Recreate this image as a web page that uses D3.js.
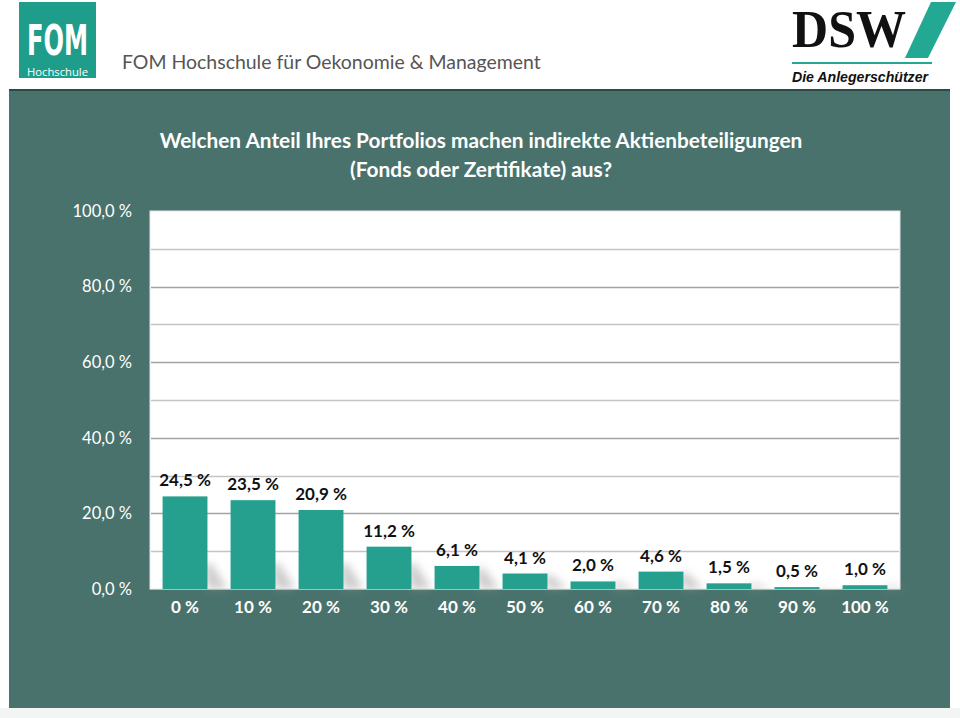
<!DOCTYPE html>
<html><head><meta charset="utf-8">
<script src="https://cdn.jsdelivr.net/npm/d3@7"></script>
<style>html,body{margin:0;padding:0;background:#fff;}svg{display:block;}</style>
</head><body>
<script>
const categories = ["0 %","10 %","20 %","30 %","40 %","50 %","60 %","70 %","80 %","90 %","100 %"];
const values = [24.5,23.5,20.9,11.2,6.1,4.1,2.0,4.6,1.5,0.5,1.0];
const yTickValues = [0,20,40,60,80,100];
const gridValues = [10,20,30,40,50,60,70,80,90];
const titleLines = ["Welchen Anteil Ihres Portfolios machen indirekte Aktienbeteiligungen","(Fonds oder Zertifikate) aus?"];
const headerText = "FOM Hochschule für Oekonomie & Management";

const W = 960, H = 718;
const de = d3.formatLocale({decimal:",", thousands:".", grouping:[3], currency:["","€"]});
const f1 = de.format(".1f");

const svg = d3.select("body").append("svg").attr("width",W).attr("height",H);
const defs = svg.append("defs");
defs.append("filter").attr("id","blur").attr("x","-50%").attr("y","-50%").attr("width","200%").attr("height","200%")
  .append("feGaussianBlur").attr("stdDeviation",4);

function fit(sel, target){
  const n = sel.node(); const w = n.getComputedTextLength();
  const fs = parseFloat(sel.attr("font-size"));
  sel.attr("font-size", fs*target/w);
}

// background
svg.append("rect").attr("width",W).attr("height",H).attr("fill","#ffffff");
svg.append("rect").attr("x",0).attr("y",708).attr("width",W).attr("height",10).attr("fill","#f3f4f4");

// FOM logo
svg.append("rect").attr("x",19).attr("y",2).attr("width",77).attr("height",76).attr("fill","#1d9d8a");
svg.append("text").attr("x",27).attr("y",55).attr("font-family","DejaVu Sans Condensed, DejaVu Sans").attr("font-weight","bold")
  .attr("font-size",42).attr("fill","#fff").attr("textLength",61).attr("lengthAdjust","spacingAndGlyphs").text("FOM");
svg.append("text").attr("x",27).attr("y",76).attr("font-family","Open Sans").attr("font-size",10).attr("fill","#fff")
  .attr("textLength",61).attr("lengthAdjust","spacingAndGlyphs").text("Hochschule");
const ht = svg.append("text").attr("x",122).attr("y",69).attr("font-family","Lato").attr("font-size",19).attr("fill","#555").text(headerText);
fit(ht, 419);

// DSW logo
svg.append("text").attr("x",792).attr("y",47).attr("font-family","Liberation Serif").attr("font-weight","bold")
  .attr("font-size",52).attr("fill","#111").attr("textLength",114).attr("lengthAdjust","spacingAndGlyphs").text("DSW");
svg.append("polygon").attr("points","931,2 956,2 928,58 905,58").attr("fill","#23a894");
svg.append("rect").attr("x",792).attr("y",62).attr("width",140).attr("height",2).attr("fill","#23a894");
svg.append("text").attr("x",792).attr("y",82).attr("font-family","Liberation Sans").attr("font-weight","bold").attr("font-style","italic")
  .attr("font-size",14).attr("fill","#111").attr("textLength",136).attr("lengthAdjust","spacingAndGlyphs").text("Die Anlegerschützer");

// panel
svg.append("rect").attr("x",9).attr("y",90).attr("width",941).attr("height",618).attr("fill","#4a726c");
svg.append("rect").attr("x",9).attr("y",89).attr("width",941).attr("height",2).attr("fill","#2e4b47");

// title
titleLines.forEach((t,i)=>{
  svg.append("text").attr("x",481).attr("y",148+i*29).attr("text-anchor","middle").attr("font-family","Lato")
    .attr("font-weight","bold").attr("font-size",19).attr("fill","#fff").text(t);
});
svg.selectAll("text").filter(function(){return this.textContent===titleLines[0];}).call(s=>fit(s,643));
svg.selectAll("text").filter(function(){return this.textContent===titleLines[1];}).call(s=>fit(s,262));

// plot area
const x = d3.scaleBand().domain(categories).range([150,900]).paddingInner(0.34).paddingOuter(0.185);
const y = d3.scaleLinear().domain([0,100]).range([589,211]);
svg.append("rect").attr("x",150).attr("y",y(100)).attr("width",750).attr("height",y(0)-y(100)).attr("fill","#fff").attr("stroke","#e3e6e6").attr("stroke-width",1);

svg.append("g").selectAll("line").data(gridValues).join("line")
  .attr("x1",151).attr("x2",899).attr("y1",d=>Math.round(y(d))+0.5).attr("y2",d=>Math.round(y(d))+0.5)
  .attr("stroke",d=>d%20===0?"#a3a3a3":"#c4c4c4").attr("stroke-width",1.3);

// shadows
svg.append("g").attr("filter","url(#blur)").selectAll("polygon").data(values).join("polygon")
  .attr("points",(d,i)=>{
    const xr = x(categories[i])+x.bandwidth(); const b = y(0); const s = Math.min(y(0)-y(d), 28)*0.9;
    return [[xr-4,b-s],[xr+4,b-s],[xr+20,b],[xr,b]].map(p=>p.join(",")).join(" ");
  }).attr("fill","#9a9a9a").attr("opacity",0.5);

// bars
svg.append("g").selectAll("rect").data(values).join("rect")
  .attr("x",(d,i)=>x(categories[i])).attr("width",x.bandwidth())
  .attr("y",d=>y(d)).attr("height",d=>y(0)-y(d)).attr("fill","#25a08f");

svg.append("line").attr("x1",150).attr("x2",900).attr("y1",589.5).attr("y2",589.5).attr("stroke","#b9b9b9").attr("stroke-width",1);

// value labels
svg.append("g").selectAll("text").data(values).join("text")
  .attr("x",(d,i)=>x(categories[i])+x.bandwidth()/2).attr("y",d=>y(d)-10)
  .attr("text-anchor","middle").attr("font-family","Lato").attr("font-weight","bold").attr("font-size",17)
  .attr("fill","#111").text(d=>f1(d)+" %");

// y axis
const yAxis = d3.axisLeft(y).tickValues(yTickValues).tickSize(0).tickPadding(0).tickFormat(d=>f1(d)+" %");
const gy = svg.append("g").attr("transform","translate(132,0)").call(yAxis);
gy.select(".domain").remove();
gy.selectAll("text").attr("font-family","Lato").attr("font-size",16.5).attr("fill","#fff");

// x axis
const xAxis = d3.axisBottom(x).tickSize(0).tickPadding(0);
const gx = svg.append("g").attr("transform","translate(0,601)").call(xAxis);
gx.select(".domain").remove();
gx.selectAll("text").attr("font-family","Lato").attr("font-weight","bold").attr("font-size",17).attr("fill","#fff").attr("dy","0.71em");
</script>
</body></html>
